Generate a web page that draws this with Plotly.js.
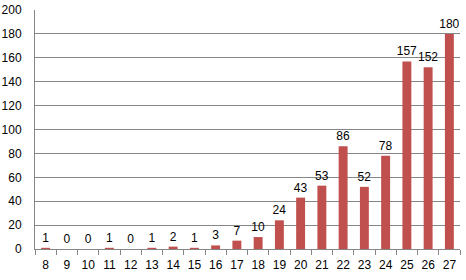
<!DOCTYPE html>
<html><head><meta charset="utf-8">
<script src="https://cdn.plot.ly/plotly-3.0.1.min.js"></script>
<style>html,body{margin:0;padding:0;background:#fff}#c{width:466px;height:280px}</style>
</head><body><div id="c"></div>
<script>
const categories = ['8','9','10','11','12','13','14','15','16','17','18','19','20','21','22','23','24','25','26','27'];
const values = [1,0,0,1,0,1,2,1,3,7,10,24,43,53,86,52,78,157,152,180];
const yTicks = [0,20,40,60,80,100,120,140,160,180,200];

const font = {family: 'Liberation Sans, Arial, sans-serif', size: 12, color: '#000'};
Plotly.newPlot('c', [{
  type: 'bar', x: categories, y: values,
  marker: {color: '#C0504D'},
  text: values.map(String), textposition: 'outside', cliponaxis: false,
  constraintext: 'none',
  textfont: font, outsidetextfont: font, width: 0.42
}], {
  width: 466, height: 280,
  margin: {l: 35, r: 6, t: 10, b: 31},
  paper_bgcolor: '#fff', plot_bgcolor: '#fff',
  showlegend: false, font: font,
  xaxis: {type: 'category', showline: true, linecolor: '#868686', linewidth: 1,
    ticks: 'outside', tickson: 'boundaries', ticklen: 5, tickcolor: '#868686',
    showgrid: false, tickfont: font, tickangle: 0, ticklabelstandoff: 5},
  yaxis: {range: [0, 200], tickvals: yTicks, showline: true, linecolor: '#868686',
    linewidth: 1, gridcolor: '#868686', gridwidth: 1, zeroline: false,
    ticks: '', tickfont: font, ticklabelstandoff: 10, fixedrange: true},
  bargap: 0.58
}, {staticPlot: true});
</script></body></html>
